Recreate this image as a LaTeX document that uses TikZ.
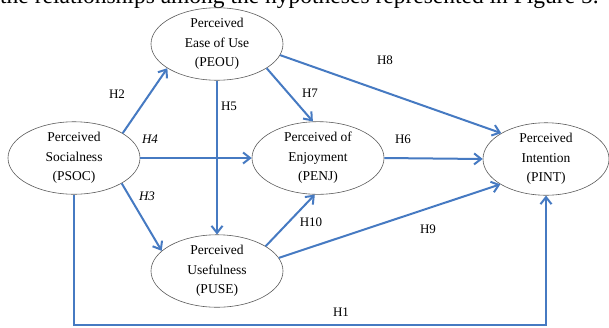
\documentclass[tikz,border=0pt]{standalone}
\usepackage{fontspec}
\setmainfont{Liberation Serif}
\usetikzlibrary{arrows.meta,shapes.geometric}
\definecolor{arrowblue}{RGB}{70,122,194}
\definecolor{rimgray}{RGB}{90,90,90}
\tikzset{
  construct/.style={ellipse, draw=rimgray, line width=0.6pt, minimum width=132pt, minimum height=66pt, inner sep=0pt, align=center, font=\fontsize{13.5}{19.5}\selectfont},
  link/.style={draw=arrowblue, line width=2pt, -{Straight Barb[length=7pt,width=11pt,line width=2pt]}},
  hyp/.style={font=\fontsize{13}{15}\selectfont, inner sep=0pt},
}
\begin{document}
\begin{tikzpicture}[x=1pt,y=-1pt]
\useasboundingbox (0,0) rectangle (609,327);
\clip (0,0) rectangle (609,327);
\node[anchor=base west, inner sep=0pt, font=\fontsize{23.5}{26}\selectfont] (caption) at (0,3) {the relationships among the hypotheses represented in Figure 5.};

\node[construct] (peou) at (217,44) {Perceived\\Ease of Use\\(PEOU)};
\node[construct] (psoc) at (74,158) {Perceived\\Socialness\\(PSOC)};
\node[construct] (penj) at (318,158) {Perceived of\\Enjoyment\\(PENJ)};
\node[construct, minimum width=126pt] (pint) at (546,159) {Perceived\\Intention\\(PINT)};
\node[construct] (puse) at (217,271) {Perceived\\Usefulness\\(PUSE)};
\coordinate (bottomline) at (0,325);

\draw[link] (psoc.27) -- (peou.206);
\draw[link] (peou.south) -- (puse.north);
\draw[link] (psoc.east) -- (penj.west);
\draw[link] (psoc.332) -- (puse.160);
\draw[link] (peou.334) -- (penj.98);
\draw[link] (peou.350) -- (pint.150);
\draw[link] (penj.east) -- (pint.west);
\draw[link] (puse.27) -- (penj.265);
\draw[link] (puse.12) -- (pint.209);
\draw[link] (psoc.south) -- (psoc.south |- bottomline) -| (pint.south);

\node[hyp] (lh2) at (117,94) {H2};
\node[hyp] (lh5) at (229,106) {H5};
\node[hyp] (lh4) at (150,139) {\itshape H4};
\node[hyp] (lh3) at (147,196) {\itshape H3};
\node[hyp] (lh7) at (310,93) {H7};
\node[hyp] (lh8) at (385,60) {H8};
\node[hyp] (lh6) at (403,139) {H6};
\node[hyp] (lh10) at (311,222) {H10};
\node[hyp] (lh9) at (428,229) {H9};
\node[hyp] (lh1) at (341,312) {H1};
\end{tikzpicture}
\end{document}
